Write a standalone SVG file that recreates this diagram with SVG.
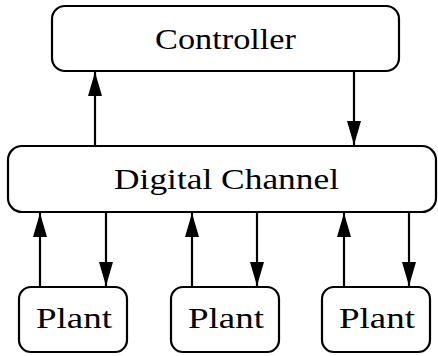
<svg xmlns="http://www.w3.org/2000/svg" width="438" height="356" viewBox="0 0 438 356">
<style>
.box{fill:#fff;stroke:#000;stroke-width:2.2}
.lbl{font-family:"Liberation Serif","DejaVu Serif",serif;font-size:29px;fill:#000;text-anchor:middle}
.c{stroke:#000;stroke-width:2.2;fill:none;marker-end:url(#ah)}
</style>
<defs>
<marker id="ah" markerUnits="userSpaceOnUse" markerWidth="26" markerHeight="14" refX="24" refY="7" orient="auto" viewBox="0 0 26 14">
<path d="M0,0 L24,7 L0,14 z" fill="#000"/>
</marker>
</defs>
<rect width="438" height="356" fill="#fff"/>
<g id="controller">
<rect class="box" x="52" y="6" width="347" height="65" rx="13"/>
<text class="lbl" x="225.5" y="49" textLength="141" lengthAdjust="spacingAndGlyphs">Controller</text>
</g>
<g id="channel">
<rect class="box" x="8" y="146" width="428" height="66" rx="14"/>
<text class="lbl" x="226.5" y="189" textLength="225" lengthAdjust="spacingAndGlyphs">Digital Channel</text>
</g>
<g id="plant1">
<rect class="box" x="19" y="287" width="108" height="65" rx="12"/>
<text class="lbl" x="74" y="328" textLength="76" lengthAdjust="spacingAndGlyphs">Plant</text>
</g>
<g id="plant2">
<rect class="box" x="171" y="287" width="108" height="65" rx="12"/>
<text class="lbl" x="226" y="328" textLength="76" lengthAdjust="spacingAndGlyphs">Plant</text>
</g>
<g id="plant3">
<rect class="box" x="322" y="287" width="108" height="65" rx="12"/>
<text class="lbl" x="377" y="328" textLength="76" lengthAdjust="spacingAndGlyphs">Plant</text>
</g>
<g id="connectors">
<line class="c" x1="95" y1="146" x2="95" y2="72"/>
<line class="c" x1="354" y1="71" x2="354" y2="145"/>
<line class="c" x1="40" y1="287" x2="40" y2="213"/>
<line class="c" x1="106" y1="212" x2="106" y2="286"/>
<line class="c" x1="192" y1="287" x2="192" y2="213"/>
<line class="c" x1="257" y1="212" x2="257" y2="286"/>
<line class="c" x1="344" y1="287" x2="344" y2="213"/>
<line class="c" x1="409" y1="212" x2="409" y2="286"/>
</g>
</svg>
